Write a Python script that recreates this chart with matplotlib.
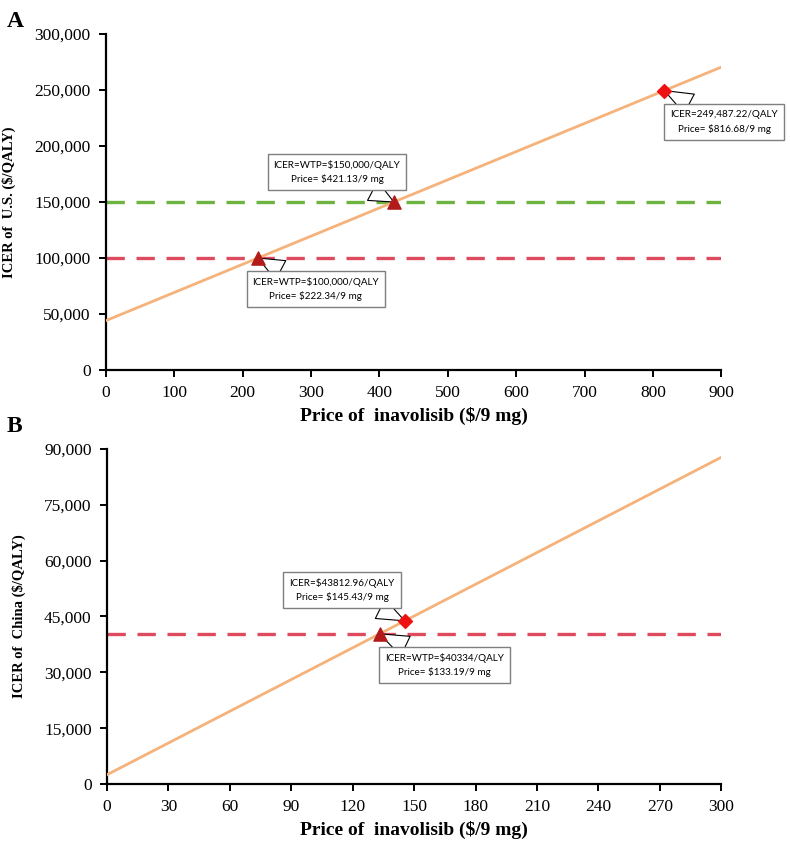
import numpy as np
import matplotlib
matplotlib.use("Agg")
import matplotlib.pyplot as plt
from matplotlib.ticker import FuncFormatter

# panel A: U.S.
us_price = [0, 222.34, 421.13, 816.68, 900]
us_icer = [44080, 100000, 150000, 249487.22, 270450]
us_wtp = [100000, 150000]
us_tri_x = [222.34, 421.13]
us_tri_y = [100000, 150000]
us_dia_x = [816.68]
us_dia_y = [249487.22]

# panel B: China
cn_price = [0, 133.19, 145.43, 300]
cn_icer = [2480, 40334, 43812.96, 87750]
cn_wtp = [40334]
cn_tri_x = [133.19]
cn_tri_y = [40334]
cn_dia_x = [145.43]
cn_dia_y = [43812.96]

serif = "Liberation Serif"
box_font = "Lato"
orange = "#F5B27A"
green = "#6CB33F"
red = "#DE4A5E"
tri_c = "#B31B1B"
dia_c = "#EE1111"

fig = plt.figure(figsize=(7.9, 8.44), dpi=100)
axA = fig.add_axes([0.134, 0.5616, 0.779, 0.3981])
axB = fig.add_axes([0.1354, 0.0711, 0.7776, 0.397])


def style(ax, xmax, xstep, ymax, ystep, ylabel):
    ax.set_xlim(0, xmax)
    ax.set_ylim(0, ymax)
    ax.set_xticks(np.arange(0, xmax + 1, xstep))
    ax.set_yticks(np.arange(0, ymax + 1, ystep))
    ax.yaxis.set_major_formatter(FuncFormatter(lambda v, p: f"{int(v):,}"))
    for s in ["top", "right"]:
        ax.spines[s].set_visible(False)
    for s in ["left", "bottom"]:
        ax.spines[s].set_linewidth(1.6)
    ax.tick_params(direction="out", length=5, width=1.4, labelsize=12.5, pad=6)
    for lab in ax.get_xticklabels() + ax.get_yticklabels():
        lab.set_fontfamily(serif)
    ax.set_xlabel("Price of  inavolisib ($/9 mg)", fontfamily=serif,
                  fontweight="bold", fontsize=14, labelpad=4)
    ax.set_ylabel(ylabel, fontfamily=serif, fontweight="bold", fontsize=10.5,
                  labelpad=13)


def callout(ax, text, xy, xytext):
    ax.annotate(text, xy=xy, xytext=xytext, ha="center", va="center",
                fontsize=7.1, fontfamily=box_font, linespacing=1.6,
                bbox=dict(boxstyle="square,pad=0.6", fc="white", ec="#7F7F7F", lw=1),
                arrowprops=dict(arrowstyle="wedge,tail_width=2.2,shrink_factor=0.5",
                                fc="white", ec="black", lw=0.8, shrinkA=0, shrinkB=0),
                annotation_clip=False, zorder=6)


# ---- A
style(axA, 900, 100, 300000, 50000, "ICER of  U.S. ($/QALY)")
axA.axhline(us_wtp[0], color=red, lw=2.4, ls=(0, (5.5, 3.5)), zorder=2)
axA.axhline(us_wtp[1], color=green, lw=2.4, ls=(0, (5.5, 3.5)), zorder=2)
axA.plot(us_price, us_icer, color=orange, lw=2, zorder=3)
callout(axA, "ICER=WTP=$150,000/QALY\nPrice= $421.13/9 mg", (us_tri_x[1], us_tri_y[1]), (338, 176800))
callout(axA, "ICER=WTP=$100,000/QALY\nPrice= $222.34/9 mg", (us_tri_x[0], us_tri_y[0]), (307, 72300))
callout(axA, "ICER=249,487.22/QALY\nPrice= $816.68/9 mg", (us_dia_x[0], us_dia_y[0]), (904, 221400))
axA.scatter(us_tri_x, us_tri_y, marker="^", s=90, color=tri_c, zorder=7)
axA.scatter(us_dia_x, us_dia_y, marker="D", s=50, color=dia_c, zorder=7)
fig.text(0.008, 0.975, "A", fontfamily=serif, fontweight="bold", fontsize=17, va="center")

# ---- B
style(axB, 300, 30, 90000, 15000, "ICER of  China ($/QALY)")
axB.axhline(cn_wtp[0], color=red, lw=2.4, ls=(0, (5.5, 3.5)), zorder=2)
axB.plot(cn_price, cn_icer, color=orange, lw=2, zorder=3)
callout(axB, "ICER=$43812.96/QALY\nPrice= $145.43/9 mg", (cn_dia_x[0], cn_dia_y[0]), (114.8, 52130))
callout(axB, "ICER=WTP=$40334/QALY\nPrice= $133.19/9 mg", (cn_tri_x[0], cn_tri_y[0]), (165, 31975))
axB.scatter(cn_tri_x, cn_tri_y, marker="^", s=90, color=tri_c, zorder=7)
axB.scatter(cn_dia_x, cn_dia_y, marker="D", s=50, color=dia_c, zorder=7)
fig.text(0.008, 0.495, "B", fontfamily=serif, fontweight="bold", fontsize=17, va="center")

fig.savefig("out.png", dpi=100)
